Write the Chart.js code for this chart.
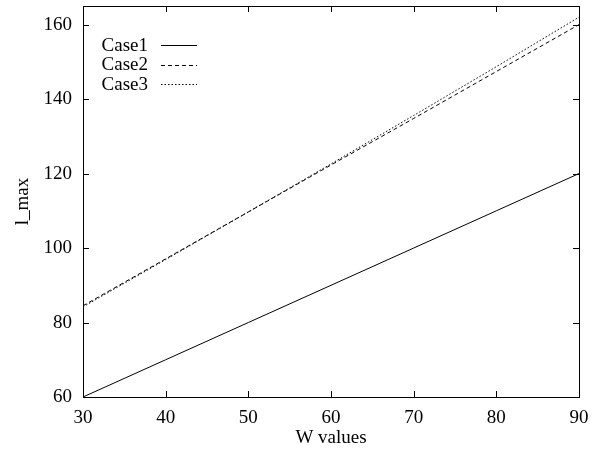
<!DOCTYPE html>
<html>
<head>
<meta charset="utf-8">
<script src="https://cdn.jsdelivr.net/npm/chart.js@4"></script>
<style>
html,body{margin:0;padding:0;background:#fff}
#wrap{width:595px;height:453px}
</style>
</head>
<body>
<div id="wrap"><canvas id="c" width="595" height="453"></canvas></div>
<script>
// ===== DATA =====
const W_VALUES=[30,40,50,60,70,80,90];
const CASE1=[60,70,80,90,100,110,120];
const CASE2=[84.5,97.1,109.7,122.3,134.8,147.4,160];
const CASE3=[84.2,96.9,109.7,122.6,135.6,148.7,162];
const X_TICKS=[30,40,50,60,70,80,90];
const Y_TICKS=[60,80,100,120,140,160];
const SERIES_NAMES=['Case1','Case2','Case3'];
const DASHES=[[],[4,3],[1.5,2]];

const FONT="'Liberation Serif', 'Times New Roman', 'DejaVu Serif', serif";
const FS=19;

// frame + inward gnuplot-style ticks + legend
const framePlugin={
  id:'frame',
  afterDraw(chart){
    const {ctx,chartArea:a,scales:{x,y}}=chart;
    ctx.save();
    ctx.strokeStyle='#000';ctx.lineWidth=1;
    ctx.strokeRect(a.left+0.5,a.top+0.5,a.right-a.left,a.bottom-a.top);
    const t=6;
    ctx.beginPath();
    X_TICKS.forEach(v=>{const px=Math.round(x.getPixelForValue(v))+0.5;
      ctx.moveTo(px,a.bottom);ctx.lineTo(px,a.bottom-t);
      ctx.moveTo(px,a.top);ctx.lineTo(px,a.top+t);});
    Y_TICKS.forEach(v=>{const py=Math.round(y.getPixelForValue(v))+0.5;
      ctx.moveTo(a.left,py);ctx.lineTo(a.left+t,py);
      ctx.moveTo(a.right,py);ctx.lineTo(a.right-t,py);});
    ctx.stroke();
    // legend
    ctx.font=FS+'px '+FONT;ctx.fillStyle='#000';ctx.textAlign='right';ctx.textBaseline='middle';
    SERIES_NAMES.forEach((n,i)=>{
      const yy=46+i*19.5;
      ctx.fillText(n,148,yy);
      ctx.setLineDash(DASHES[i]);
      ctx.beginPath();ctx.moveTo(161,Math.round(yy)-0.5);ctx.lineTo(197,Math.round(yy)-0.5);ctx.stroke();
    });
    ctx.restore();
  }
};

const mk=(label,vals,i)=>({label,data:W_VALUES.map((w,k)=>({x:w,y:vals[k]})),
  borderColor:'#000',borderWidth:1,borderDash:DASHES[i],pointRadius:0,fill:false,tension:0});

new Chart(document.getElementById('c'),{
  type:'line',
  data:{datasets:[mk('Case1',CASE1,0),mk('Case2',CASE2,1),mk('Case3',CASE3,2)]},
  options:{
    responsive:false,animation:false,
    layout:{padding:{top:6,right:16,left:0,bottom:0}},
    plugins:{legend:{display:false},tooltip:{enabled:false}},
    scales:{
      x:{type:'linear',min:30,max:90,
        afterBuildTicks:s=>{s.ticks=X_TICKS.map(v=>({value:v}))},
        afterFit:s=>{s.height=56;s.paddingLeft=0;s.paddingRight=0},
        grid:{display:false,drawTicks:false},border:{display:false},
        ticks:{color:'#000',font:{family:FONT,size:FS},padding:10,maxRotation:0},
        title:{display:true,text:'W values',color:'#000',font:{family:FONT,size:FS},padding:{top:-4}}},
      y:{type:'linear',min:60,max:165,
        afterBuildTicks:s=>{s.ticks=Y_TICKS.map(v=>({value:v}))},
        afterFit:s=>{s.width=83;s.paddingTop=0;s.paddingBottom=0},
        grid:{display:false,drawTicks:false},border:{display:false},
        ticks:{color:'#000',font:{family:FONT,size:FS},padding:11},
        title:{display:true,text:'l_max',color:'#000',font:{family:FONT,size:FS},padding:{top:12}}}
    }
  },
  plugins:[framePlugin]
});
</script>
</body>
</html>
